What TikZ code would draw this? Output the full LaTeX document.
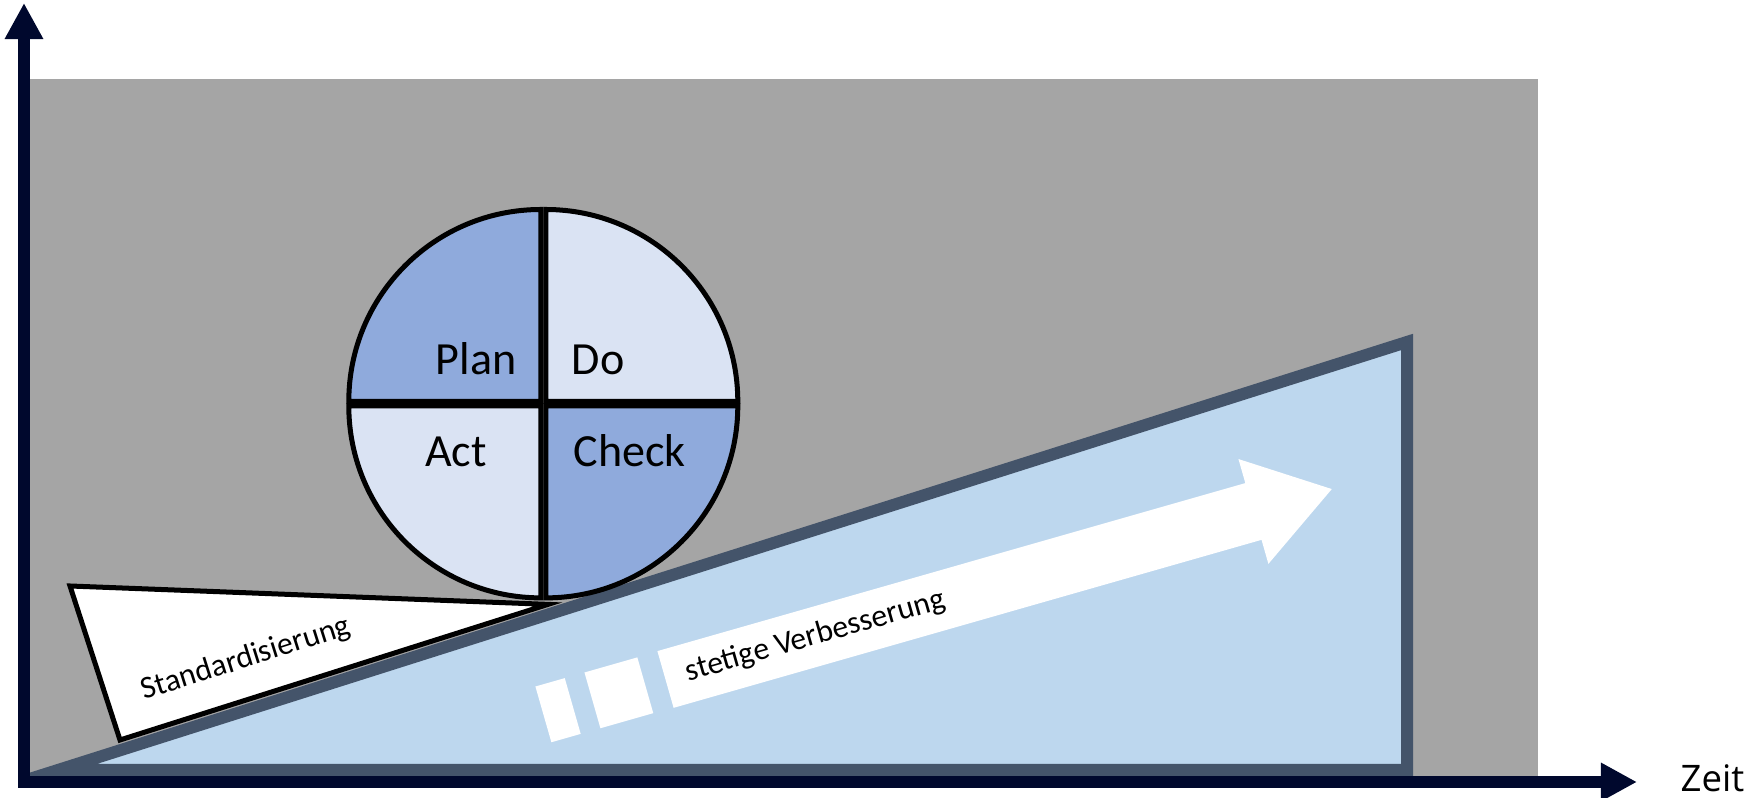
\documentclass[tikz,border=0pt]{standalone}
\usepackage{fontspec}
\setmainfont{Carlito}
\newfontfamily\zeitfont{Open Sans}
\usepackage{tikz}
\usetikzlibrary{calc,arrows.meta}

\definecolor{bggray}{HTML}{A5A5A5}
\definecolor{rampfill}{HTML}{BDD7EE}
\definecolor{rampline}{HTML}{44546A}
\definecolor{axisnavy}{RGB}{0,8,45}
\definecolor{pdcadark}{HTML}{8FAADC}
\definecolor{pdcalight}{HTML}{DAE3F3}

\tikzset{
  axis/.style={axisnavy,line width=0.12cm,-{Triangle[length=0.36cm,width=0.36cm]}},
  quarter/.style={draw=black,line width=0.05cm,line join=miter},
  bigtext/.style={font=\fontsize{13.1}{15}\selectfont,inner sep=0pt,anchor=base},
  smalltext/.style={font=\fontsize{9}{10}\selectfont,inner sep=0pt},
}

\begin{document}
\begin{tikzpicture}[x=0.01cm,y=-0.01cm]
        \useasboundingbox(0,0)rectangle(1762,798);
        % 背景
        \fill[bggray](24,79)rectangle(1538,782);
        % 斜坡
        \draw[rampline,fill=rampfill,line width=0.12cm,line join=miter](58,770)--(1407,770)--(1407,342)--cycle;
        % 楔子
        \draw[black,fill=white,line width=0.05cm,line join=miter](70,586)--(120,740)--(548,604.4)--cycle;
        \node[smalltext,rotate=17.5](std)at(246,659){Standardisierung};
        % 箭头
        \begin{scope}[shift={(665.5,679.5)},rotate=15.95]
        \fill[white](0,-29.5)--(611.5,-29.5)--(611.5,-54.5)--(693,0)--(611.5,54.5)--(611.5,29.5)--(0,29.5)--cycle;
        \fill[white](-76,-29)rectangle(-21,29);
        \fill[white](-127,-29)rectangle(-96.5,29);
        \node[smalltext,rotate=15.95,anchor=base west](imp)at(21,8){stetige Verbesserung};
        \end{scope}
        % PDCA
        \coordinate(M)at(543.3,403.7);
        \foreach \s/\dx/\dy/\c in {180/-2.5/-2.2/pdcadark,270/2.5/-2.2/pdcalight,0/2.5/2.2/pdcadark,90/-2.5/2.2/pdcalight}
        {
        \draw[quarter,fill=\c]($(M)+(\dx,\dy)$)--++(\s:192)arc[start angle=\s,delta angle=90,radius=192]--cycle;
        }
        \node[bigtext](plan)at(476,375){Plan};
        \node[bigtext](do)at(598,375){Do};
        \node[bigtext](act)at(456,467){Act};
        \node[bigtext](check)at(629.5,467){Check};
        % 坐标轴
        \coordinate(O)at(24,782);
        \coordinate(Y)at(24,3);
        \coordinate(X)at(1637,782);
        \draw[axis]($(O)+(0,6)$)to(Y);
        \draw[axis]($(O)+(-6,0)$)to(X);
        \node[font=\zeitfont\fontsize{10.4}{12}\selectfont,inner sep=0pt,anchor=base west](zeit)at(1680,792){Zeit};
    \end{tikzpicture}
\end{document}
